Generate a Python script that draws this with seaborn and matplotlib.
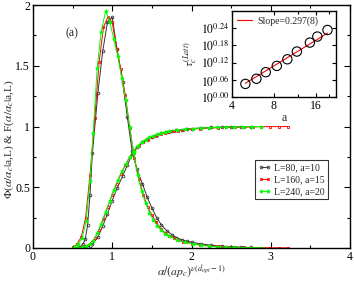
import numpy as np
import matplotlib
matplotlib.use("Agg")
import matplotlib.pyplot as plt
import seaborn as sns
from matplotlib.ticker import FixedLocator, MultipleLocator, NullFormatter

sns.set_style("ticks")
plt.rcParams["font.family"] = ["Liberation Serif", "DejaVu Serif"]
plt.rcParams["mathtext.fontset"] = "stix"
plt.rcParams.update({
    "xtick.direction": "in", "ytick.direction": "in",
    "xtick.top": True, "ytick.right": True,
    "axes.edgecolor": "black", "axes.linewidth": 1.0,
    "xtick.color": "black", "ytick.color": "black",
})

# L=80, a=10 (black)
x_b = [0.55, 0.60, 0.63, 0.66, 0.69, 0.72, 0.75, 0.82, 0.88, 0.94, 1.00, 1.06, 1.13, 1.19,
       1.25, 1.31, 1.38, 1.44, 1.50, 1.56, 1.62, 1.69, 1.75, 1.81, 1.88, 1.94, 2.00, 2.12,
       2.25, 2.38, 2.50, 2.62, 2.75]
phi_b = [0.00, 0.01, 0.03, 0.07, 0.19, 0.44, 0.78, 1.28, 1.62, 1.86, 1.90, 1.64, 1.37, 1.08,
         0.80, 0.65, 0.53, 0.42, 0.33, 0.25, 0.19, 0.14, 0.11, 0.085, 0.066, 0.055, 0.047, 0.033,
         0.022, 0.015, 0.010, 0.006, 0.004]
F_b = [0.00, 0.002, 0.004, 0.006, 0.01, 0.02, 0.03, 0.09, 0.18, 0.28, 0.39, 0.49, 0.59, 0.68,
       0.77, 0.83, 0.87, 0.895, 0.915, 0.93, 0.945, 0.955, 0.963, 0.97, 0.975, 0.979, 0.983, 0.988,
       0.992, 0.995, 0.997, 0.998, 0.999]

# L=160, a=15 (red)
x_r = [0.50, 0.555, 0.61, 0.665, 0.72, 0.78, 0.835, 0.89, 0.945, 1.00, 1.055, 1.11, 1.165, 1.22,
       1.28, 1.335, 1.39, 1.445, 1.50, 1.555, 1.61, 1.665, 1.72, 1.78, 1.835, 1.89, 2.00, 2.11,
       2.22, 2.33, 2.44, 2.55, 2.66, 2.77, 2.88, 2.99, 3.10, 3.22]
phi_r = [0.005, 0.03, 0.09, 0.25, 0.60, 1.07, 1.53, 1.82, 1.90, 1.86, 1.64, 1.47, 1.26, 0.99,
         0.74, 0.57, 0.44, 0.34, 0.27, 0.21, 0.16, 0.125, 0.10, 0.08, 0.064, 0.052, 0.036, 0.025,
         0.017, 0.012, 0.008, 0.005, 0.004, 0.003, 0.002, 0.001, 0.001, 0.0]
F_r = [0.00, 0.002, 0.005, 0.014, 0.035, 0.08, 0.15, 0.24, 0.34, 0.44, 0.53, 0.61, 0.68, 0.75,
       0.80, 0.84, 0.87, 0.893, 0.91, 0.925, 0.937, 0.947, 0.955, 0.961, 0.966, 0.971, 0.978, 0.983,
       0.987, 0.99, 0.993, 0.995, 0.996, 0.997, 0.998, 0.999, 0.999, 1.0]

# L=240, a=20 (green)
x_g = [0.52, 0.57, 0.62, 0.67, 0.72, 0.76, 0.81, 0.86, 0.917, 0.97, 1.02, 1.07, 1.12, 1.17,
       1.22, 1.27, 1.32, 1.37, 1.42, 1.47, 1.52, 1.57, 1.62, 1.67, 1.72, 1.82, 1.92, 2.02,
       2.12, 2.22, 2.32, 2.43, 2.54, 2.65, 2.76, 2.87]
phi_g = [0.01, 0.03, 0.08, 0.22, 0.55, 0.95, 1.48, 1.78, 1.95, 1.86, 1.72, 1.58, 1.40, 1.22,
         1.00, 0.78, 0.60, 0.47, 0.37, 0.29, 0.23, 0.18, 0.145, 0.115, 0.095, 0.065, 0.045, 0.032,
         0.022, 0.015, 0.010, 0.007, 0.004, 0.003, 0.002, 0.001]
F_g = [0.00, 0.002, 0.005, 0.012, 0.03, 0.06, 0.12, 0.20, 0.30, 0.39, 0.48, 0.56, 0.63, 0.69,
       0.75, 0.80, 0.84, 0.87, 0.893, 0.91, 0.925, 0.937, 0.947, 0.955, 0.961, 0.97, 0.977, 0.983,
       0.987, 0.99, 0.993, 0.995, 0.997, 0.998, 0.999, 1.0]

# inset: tau_c vs a
a_vals = [5.0, 6.0, 7.0, 8.4, 10.0, 11.7, 14.5, 16.4, 19.4]
tau_vals = [1.112, 1.159, 1.222, 1.285, 1.355, 1.442, 1.549, 1.626, 1.714]
slope = 0.297

fig = plt.figure(figsize=(3.54, 2.84), dpi=100)
ax = fig.add_axes([0.093, 0.127, 0.896, 0.855])

series = [
    (x_b, phi_b, F_b, "#333333", "o", 2.0, "none", "L=80, a=10"),
    (x_r, phi_r, F_r, "red", "s", 2.0, "none", "L=160, a=15"),
    (x_g, phi_g, F_g, "#00ff00", "*", 2.8, "#00ff00", "L=240, a=20"),
]
for xs, phi, F, col, mk, ms, mfc, lab in series:
    for ys, lb in ((phi, lab), (F, None)):
        sns.lineplot(x=xs, y=ys, ax=ax, color=col, lw=0.7, marker=mk, ms=ms,
                     mfc=mfc, mec=col, mew=0.6, sort=False, label=lb, legend=False)

ax.set_xlim(0, 4)
ax.set_ylim(0, 2)
ax.xaxis.set_major_locator(MultipleLocator(1))
ax.xaxis.set_minor_locator(MultipleLocator(0.5))
ax.yaxis.set_major_locator(MultipleLocator(0.5))
ax.yaxis.set_minor_locator(MultipleLocator(0.25))
ax.yaxis.set_major_formatter(plt.FuncFormatter(lambda v, p: f"{v:g}"))
ax.tick_params(which="major", length=4, width=0.8, labelsize=8.5, pad=2)
ax.tick_params(which="minor", length=2, width=0.8)
ax.set_xlabel(r"$\alpha/(ap_c)^{\nu(d_{opt}-1)}$", fontsize=8.5, labelpad=1)
ax.set_ylabel(r"$\Phi(\alpha/\alpha_c|$a,L) & F($\alpha/\alpha_c|$a,L)", fontsize=8.2, labelpad=1)
ax.yaxis.set_label_coords(-0.052, 0.45)
ax.text(0.49, 1.77, "(a)", fontsize=8.5, ha="center", va="center")

leg = ax.legend(loc="lower left", bbox_to_anchor=(0.70, 0.20), fontsize=7, numpoints=2,
                handlelength=1.3, handletextpad=0.3, borderpad=0.35, labelspacing=0.3,
                frameon=True, fancybox=False, edgecolor="black", borderaxespad=0)
leg.get_frame().set_linewidth(0.8)

# inset
ins = fig.add_axes([0.655, 0.658, 0.294, 0.303])
sns.scatterplot(x=a_vals, y=tau_vals, ax=ins, marker="o", s=45, facecolor="none",
                edgecolor="black", linewidth=0.8, zorder=3)
la = np.log10(a_vals)
c0 = np.mean(np.log10(tau_vals) - slope * la)
afit = np.array([a_vals[0], a_vals[-1]])
sns.lineplot(x=afit, y=10 ** (c0 + slope * np.log10(afit)), ax=ins, color="red", lw=0.8,
             label="Slope=0.297(8)")
ins.set_xscale("log", base=2)
ins.set_yscale("log")
ins.set_xlim(4, 22.3)
ins.set_ylim(1, 10 ** 0.30)
ins.xaxis.set_major_locator(FixedLocator([4, 8, 16]))
ins.xaxis.set_major_formatter(plt.FuncFormatter(lambda v, p: f"{v:g}"))
ins.xaxis.set_minor_locator(FixedLocator([12, 20]))
ins.xaxis.set_minor_formatter(NullFormatter())
yt = [0.0, 0.06, 0.12, 0.18, 0.24]
ins.yaxis.set_major_locator(FixedLocator([10 ** v for v in yt]))
ins.yaxis.set_major_formatter(plt.FixedFormatter([rf"$10^{{{v:.2f}}}$" for v in yt]))
ins.yaxis.set_minor_locator(FixedLocator([]))
ins.tick_params(which="major", length=3, width=0.8, labelsize=8.5, pad=2)
ins.tick_params(which="minor", length=2, width=0.8)
ins.set_xlabel("a", fontsize=8.5, labelpad=0)
ins.set_ylabel(r"$\tau_c^{(Latt)}$", fontsize=8.5, labelpad=1)
ins.legend(loc="upper left", fontsize=7, frameon=False, handlelength=1.6,
           handletextpad=0.5, borderaxespad=0.2, borderpad=0.3)

fig.savefig("out.png", dpi=100)
